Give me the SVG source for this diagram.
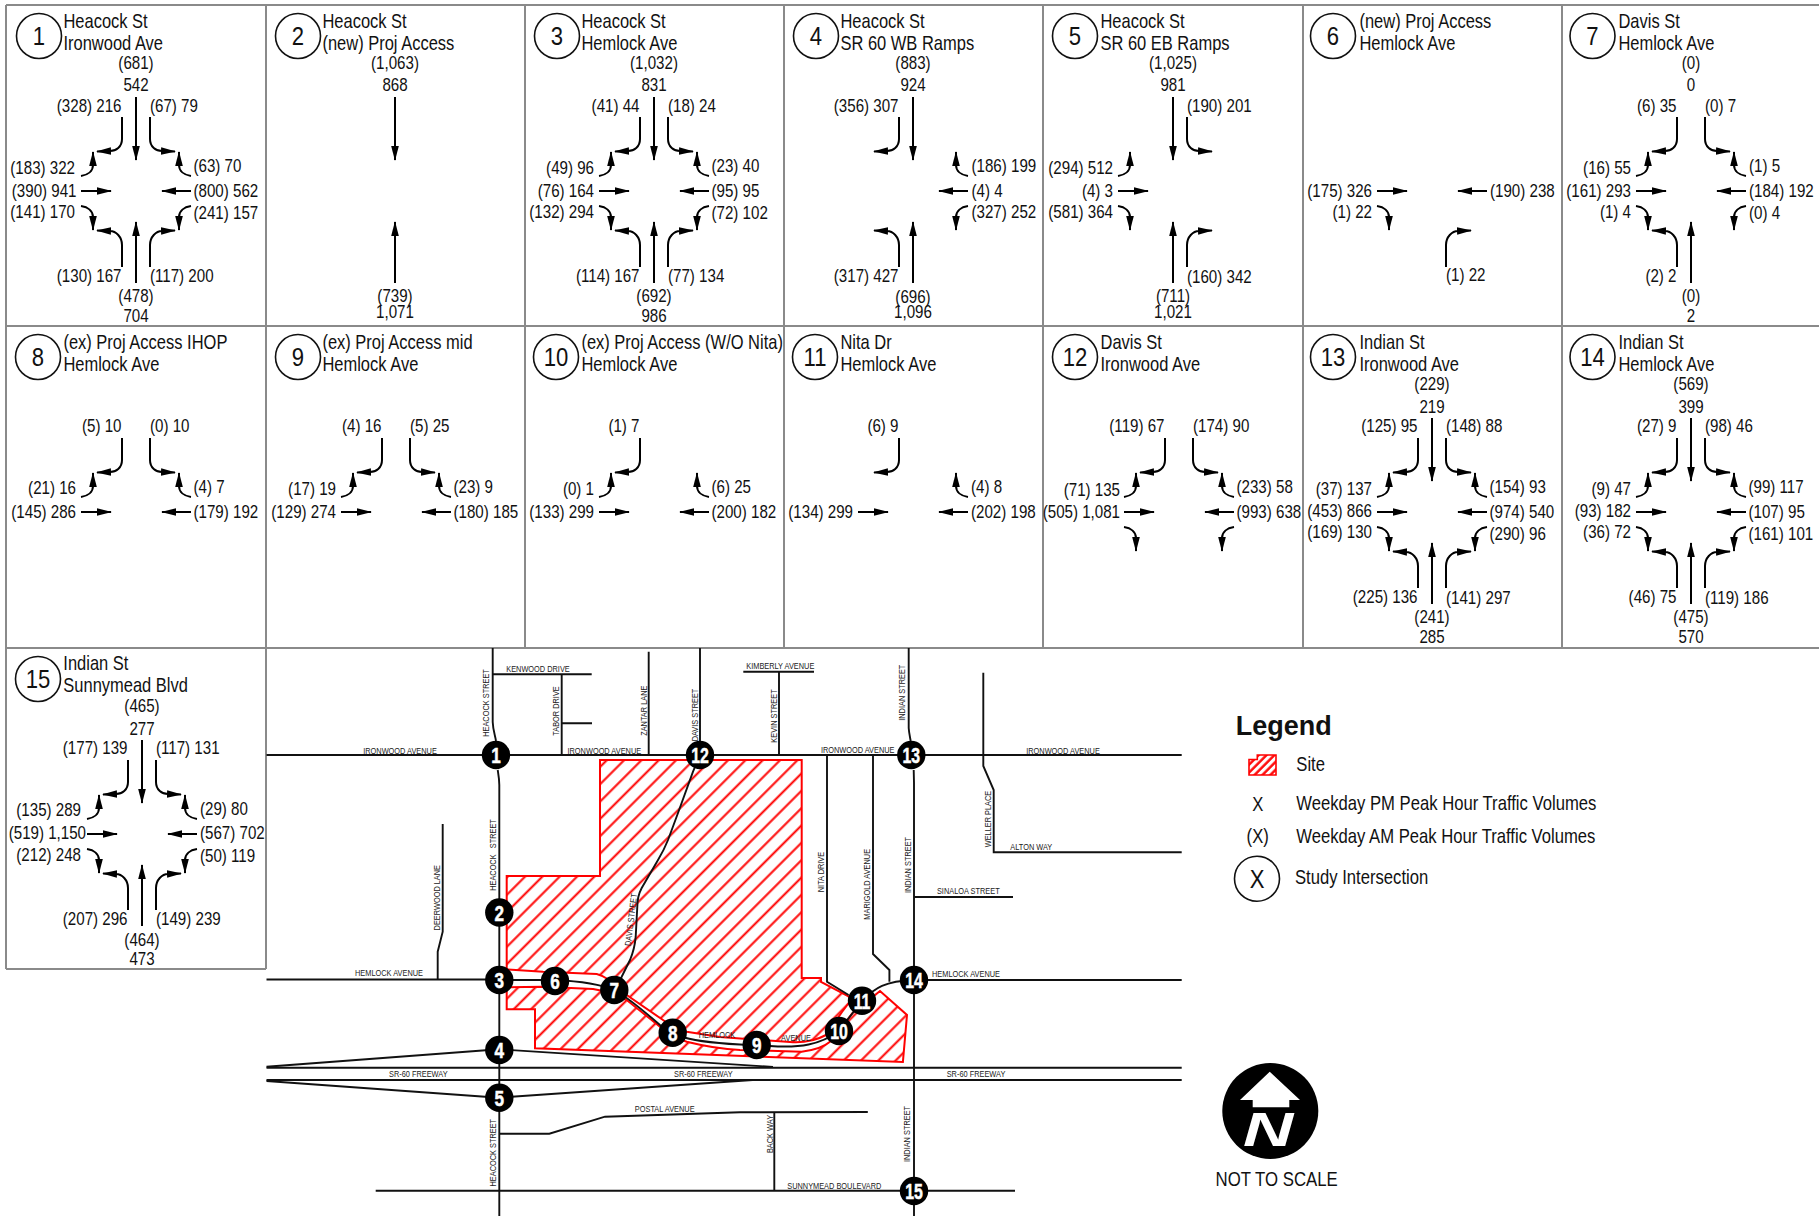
<svg xmlns="http://www.w3.org/2000/svg" width="1819" height="1216" viewBox="0 0 1819 1216">
<style>
text{font-family:"Liberation Sans",Arial,sans-serif;fill:#111}
.v{font-size:17.8px}
.e{font-size:17.8px;text-anchor:end}
.m{font-size:17.8px;text-anchor:middle}
.t{font-size:19.4px}
.n{font-size:26px;text-anchor:middle}
.c{fill:#fff;stroke:#111;stroke-width:1.6}
.grid{stroke:#8a8a8a;stroke-width:2;fill:none}
.a{fill:none;stroke:#000;stroke-width:2;marker-end:url(#h)}
.road{fill:none;stroke:#111;stroke-width:1.9}
.site{fill:url(#hatch);stroke:#f00;stroke-width:2}
.l{font-size:8.8px;text-anchor:middle;fill:#222}
.k{font-size:22px;font-weight:bold;fill:#fff;stroke:#fff;stroke-width:.5;text-anchor:middle}
.lg{font-size:19.6px}
</style>
<defs>
<marker id="h" markerUnits="userSpaceOnUse" markerWidth="16" markerHeight="9" viewBox="0 -4.5 16 9" refX="14" refY="0" orient="auto"><path d="M0,-3.8L15,0L0,3.8z" fill="#000"/></marker>
<pattern id="hatch" patternUnits="userSpaceOnUse" width="12.254" height="12.254" patternTransform="rotate(45)"><rect width="12.254" height="12.254" fill="#fff"/><line x1="10.8" y1="0" x2="10.8" y2="12.254" stroke="#f00" stroke-width="2"/></pattern>
<pattern id="hatch2" patternUnits="userSpaceOnUse" width="5.6" height="5.6" patternTransform="rotate(45)"><rect width="5.6" height="5.6" fill="#fff"/><line x1="1.5" y1="0" x2="1.5" y2="5.6" stroke="#f00" stroke-width="2.4"/></pattern>
<path id="st" class="a" d="M0,-94V-31"/>
<path id="nt" class="a" d="M0,92V31"/>
<path id="et" class="a" d="M-55,0H-25"/>
<path id="wt" class="a" d="M55,0H26"/>
<path id="sr" class="a" d="M-14,-74V-52C-14,-44 -20,-40 -26,-40L-39,-39.5"/>
<path id="sl" class="a" d="M14,-74V-52C14,-44 20,-40 26,-40L39,-39.5"/>
<path id="nl" class="a" d="M-14,76V54C-14,46 -20,40 -26,40L-39,39.5"/>
<path id="nr" class="a" d="M14,76V54C14,46 20,40 26,40L39,39.5"/>
<path id="eu" class="a" d="M-55,-15C-48,-16 -43,-20 -43,-26L-43,-39"/>
<path id="ed" class="a" d="M-55,15C-48,16 -43,20 -43,26L-43,39"/>
<path id="wu" class="a" d="M55,-15C48,-16 43,-20 43,-26L43,-39"/>
<path id="wd" class="a" d="M55,15C48,16 43,20 43,26L43,39"/>
</defs>
<rect width="1819" height="1216" fill="#fff"/>
<path id="grid" class="grid" d="M6,5H1819M6,326H1819M6,648H1819M6,969H266M6,5V969M266,5V969M525,5V648M784,5V648M1043,5V648M1303,5V648M1562,5V648"/>

<g id="cell-1" transform="translate(136 191)">
<circle class="c" cx="-97" cy="-155" r="22.5"/><text class="n" transform="matrix(.85 0 0 1 -97 -146)">1</text>
<text class="t" transform="matrix(.85 0 0 1 -72.6 -163.5)">Heacock St</text><text class="t" transform="matrix(.85 0 0 1 -72.6 -141.5)">Ironwood Ave</text>
<use href="#st"/><use href="#nt"/><use href="#et"/><use href="#wt"/><use href="#sr"/><use href="#sl"/><use href="#nl"/><use href="#nr"/><use href="#eu"/><use href="#ed"/><use href="#wu"/><use href="#wd"/>
<text class="m" transform="matrix(.85 0 0 1 0 -122)">(681)</text><text class="m" transform="matrix(.85 0 0 1 0 -100)">542</text>
<text class="e" transform="matrix(.85 0 0 1 -14.5 -79)">(328) 216</text><text class="v" transform="matrix(.85 0 0 1 14 -79)">(67) 79</text>
<text class="e" transform="matrix(.85 0 0 1 -61 -17)">(183) 322</text><text class="e" transform="matrix(.85 0 0 1 -59.5 6)">(390) 941</text><text class="e" transform="matrix(.85 0 0 1 -61 27)">(141) 170</text>
<text class="v" transform="matrix(.85 0 0 1 57.5 -19)">(63) 70</text><text class="v" transform="matrix(.85 0 0 1 57.5 6)">(800) 562</text><text class="v" transform="matrix(.85 0 0 1 57.5 28)">(241) 157</text>
<text class="e" transform="matrix(.85 0 0 1 -14.5 91)">(130) 167</text><text class="v" transform="matrix(.85 0 0 1 14 91)">(117) 200</text>
<text class="m" transform="matrix(.85 0 0 1 0 111)">(478)</text><text class="m" transform="matrix(.85 0 0 1 0 131)">704</text>
</g>

<g id="cell-2" transform="translate(395 191)">
<circle class="c" cx="-97" cy="-155" r="22.5"/><text class="n" transform="matrix(.85 0 0 1 -97 -146)">2</text>
<text class="t" transform="matrix(.85 0 0 1 -72.6 -163.5)">Heacock St</text><text class="t" transform="matrix(.85 0 0 1 -72.6 -141.5)">(new) Proj Access</text>
<use href="#st"/><use href="#nt"/>
<text class="m" transform="matrix(.85 0 0 1 0 -122)">(1,063)</text><text class="m" transform="matrix(.85 0 0 1 0 -100)">868</text>
<text class="m" transform="matrix(.85 0 0 1 0 111)">(739)</text><text class="m" transform="matrix(.85 0 0 1 0 127)">1,071</text>
</g>

<g id="cell-3" transform="translate(654 191)">
<circle class="c" cx="-97" cy="-155" r="22.5"/><text class="n" transform="matrix(.85 0 0 1 -97 -146)">3</text>
<text class="t" transform="matrix(.85 0 0 1 -72.6 -163.5)">Heacock St</text><text class="t" transform="matrix(.85 0 0 1 -72.6 -141.5)">Hemlock Ave</text>
<use href="#st"/><use href="#nt"/><use href="#et"/><use href="#wt"/><use href="#sr"/><use href="#sl"/><use href="#nl"/><use href="#nr"/><use href="#eu"/><use href="#ed"/><use href="#wu"/><use href="#wd"/>
<text class="m" transform="matrix(.85 0 0 1 0 -122)">(1,032)</text><text class="m" transform="matrix(.85 0 0 1 0 -100)">831</text>
<text class="e" transform="matrix(.85 0 0 1 -14.5 -79)">(41) 44</text><text class="v" transform="matrix(.85 0 0 1 14 -79)">(18) 24</text>
<text class="e" transform="matrix(.85 0 0 1 -60 -17)">(49) 96</text><text class="e" transform="matrix(.85 0 0 1 -60 6)">(76) 164</text><text class="e" transform="matrix(.85 0 0 1 -60 27)">(132) 294</text>
<text class="v" transform="matrix(.85 0 0 1 57.5 -19)">(23) 40</text><text class="v" transform="matrix(.85 0 0 1 57.5 6)">(95) 95</text><text class="v" transform="matrix(.85 0 0 1 57.5 28)">(72) 102</text>
<text class="e" transform="matrix(.85 0 0 1 -14.5 91)">(114) 167</text><text class="v" transform="matrix(.85 0 0 1 14 91)">(77) 134</text>
<text class="m" transform="matrix(.85 0 0 1 0 111)">(692)</text><text class="m" transform="matrix(.85 0 0 1 0 131)">986</text>
</g>

<g id="cell-4" transform="translate(913 191)">
<circle class="c" cx="-97" cy="-155" r="22.5"/><text class="n" transform="matrix(.85 0 0 1 -97 -146)">4</text>
<text class="t" transform="matrix(.85 0 0 1 -72.6 -163.5)">Heacock St</text><text class="t" transform="matrix(.85 0 0 1 -72.6 -141.5)">SR 60 WB Ramps</text>
<use href="#st"/><use href="#nt"/><use href="#wt"/><use href="#sr"/><use href="#nl"/><use href="#wu"/><use href="#wd"/>
<text class="m" transform="matrix(.85 0 0 1 0 -122)">(883)</text><text class="m" transform="matrix(.85 0 0 1 0 -100)">924</text>
<text class="e" transform="matrix(.85 0 0 1 -14.5 -79)">(356) 307</text>
<text class="v" transform="matrix(.85 0 0 1 58.5 -19)">(186) 199</text><text class="v" transform="matrix(.85 0 0 1 58.5 6)">(4) 4</text><text class="v" transform="matrix(.85 0 0 1 58.5 27)">(327) 252</text>
<text class="e" transform="matrix(.85 0 0 1 -14.5 91)">(317) 427</text>
<text class="m" transform="matrix(.85 0 0 1 0 112)">(696)</text><text class="m" transform="matrix(.85 0 0 1 0 127)">1,096</text>
</g>

<g id="cell-5" transform="translate(1173 191)">
<circle class="c" cx="-98" cy="-155" r="22.5"/><text class="n" transform="matrix(.85 0 0 1 -98 -146)">5</text>
<text class="t" transform="matrix(.85 0 0 1 -72.6 -163.5)">Heacock St</text><text class="t" transform="matrix(.85 0 0 1 -72.6 -141.5)">SR 60 EB Ramps</text>
<use href="#st"/><use href="#nt"/><use href="#et"/><use href="#sl"/><use href="#nr"/><use href="#eu"/><use href="#ed"/>
<text class="m" transform="matrix(.85 0 0 1 0 -122)">(1,025)</text><text class="m" transform="matrix(.85 0 0 1 0 -100)">981</text>
<text class="v" transform="matrix(.85 0 0 1 14 -79)">(190) 201</text>
<text class="e" transform="matrix(.85 0 0 1 -60 -17)">(294) 512</text><text class="e" transform="matrix(.85 0 0 1 -60 6)">(4) 3</text><text class="e" transform="matrix(.85 0 0 1 -60 27)">(581) 364</text>
<text class="v" transform="matrix(.85 0 0 1 14 92)">(160) 342</text>
<text class="m" transform="matrix(.85 0 0 1 0 111)">(711)</text><text class="m" transform="matrix(.85 0 0 1 0 127)">1,021</text>
</g>

<g id="cell-6" transform="translate(1432 191)">
<circle class="c" cx="-99" cy="-155" r="22.5"/><text class="n" transform="matrix(.85 0 0 1 -99 -146)">6</text>
<text class="t" transform="matrix(.85 0 0 1 -72.6 -163.5)">(new) Proj Access</text><text class="t" transform="matrix(.85 0 0 1 -72.6 -141.5)">Hemlock Ave</text>
<use href="#et"/><use href="#wt"/><use href="#nr"/><use href="#ed"/>
<text class="e" transform="matrix(.85 0 0 1 -60 6)">(175) 326</text><text class="e" transform="matrix(.85 0 0 1 -60 27)">(1) 22</text>
<text class="v" transform="matrix(.85 0 0 1 58 6)">(190) 238</text>
<text class="v" transform="matrix(.85 0 0 1 14 90)">(1) 22</text>
</g>

<g id="cell-7" transform="translate(1691 191)">
<circle class="c" cx="-98.5" cy="-155" r="22.5"/><text class="n" transform="matrix(.85 0 0 1 -98.5 -146)">7</text>
<text class="t" transform="matrix(.85 0 0 1 -72.6 -163.5)">Davis St</text><text class="t" transform="matrix(.85 0 0 1 -72.6 -141.5)">Hemlock Ave</text>
<use href="#nt"/><use href="#et"/><use href="#wt"/><use href="#sr"/><use href="#sl"/><use href="#nl"/><use href="#eu"/><use href="#ed"/><use href="#wu"/><use href="#wd"/>
<text class="m" transform="matrix(.85 0 0 1 0 -122)">(0)</text><text class="m" transform="matrix(.85 0 0 1 0 -100)">0</text>
<text class="e" transform="matrix(.85 0 0 1 -14.5 -79)">(6) 35</text><text class="v" transform="matrix(.85 0 0 1 14 -79)">(0) 7</text>
<text class="e" transform="matrix(.85 0 0 1 -60 -17)">(16) 55</text><text class="e" transform="matrix(.85 0 0 1 -60 6)">(161) 293</text><text class="e" transform="matrix(.85 0 0 1 -60 27)">(1) 4</text>
<text class="v" transform="matrix(.85 0 0 1 58 -19)">(1) 5</text><text class="v" transform="matrix(.85 0 0 1 58 6)">(184) 192</text><text class="v" transform="matrix(.85 0 0 1 58 28)">(0) 4</text>
<text class="e" transform="matrix(.85 0 0 1 -14.5 91)">(2) 2</text>
<text class="m" transform="matrix(.85 0 0 1 0 111)">(0)</text><text class="m" transform="matrix(.85 0 0 1 0 131)">2</text>
</g>

<g id="cell-8" transform="translate(136 512)">
<circle class="c" cx="-98" cy="-155" r="22.5"/><text class="n" transform="matrix(.85 0 0 1 -98 -146)">8</text>
<text class="t" transform="matrix(.85 0 0 1 -72.6 -163.5)">(ex) Proj Access IHOP</text><text class="t" transform="matrix(.85 0 0 1 -72.6 -141.5)">Hemlock Ave</text>
<use href="#et"/><use href="#wt"/><use href="#sr"/><use href="#sl"/><use href="#eu"/><use href="#wu"/>
<text class="e" transform="matrix(.85 0 0 1 -14.5 -80)">(5) 10</text><text class="v" transform="matrix(.85 0 0 1 14 -80)">(0) 10</text>
<text class="e" transform="matrix(.85 0 0 1 -60 -18)">(21) 16</text><text class="e" transform="matrix(.85 0 0 1 -60 5.5)">(145) 286</text>
<text class="v" transform="matrix(.85 0 0 1 57.5 -19)">(4) 7</text><text class="v" transform="matrix(.85 0 0 1 57.5 6)">(179) 192</text>
</g>

<g id="cell-9" transform="translate(396 512)">
<circle class="c" cx="-98" cy="-155" r="22.5"/><text class="n" transform="matrix(.85 0 0 1 -98 -146)">9</text>
<text class="t" transform="matrix(.85 0 0 1 -73.6 -163.5)">(ex) Proj Access mid</text><text class="t" transform="matrix(.85 0 0 1 -73.6 -141.5)">Hemlock Ave</text>
<use href="#et"/><use href="#wt"/><use href="#sr"/><use href="#sl"/><use href="#eu"/><use href="#wu"/>
<text class="e" transform="matrix(.85 0 0 1 -14.5 -80)">(4) 16</text><text class="v" transform="matrix(.85 0 0 1 14 -80)">(5) 25</text>
<text class="e" transform="matrix(.85 0 0 1 -60 -17.5)">(17) 19</text><text class="e" transform="matrix(.85 0 0 1 -60 5.5)">(129) 274</text>
<text class="v" transform="matrix(.85 0 0 1 57.5 -19)">(23) 9</text><text class="v" transform="matrix(.85 0 0 1 57.5 6)">(180) 185</text>
</g>

<g id="cell-10" transform="translate(654 512)">
<circle class="c" cx="-98" cy="-155" r="22.5"/><text class="n" transform="matrix(.85 0 0 1 -98 -146)">10</text>
<text class="t" transform="matrix(.85 0 0 1 -72.6 -163.5)">(ex) Proj Access (W/O Nita)</text><text class="t" transform="matrix(.85 0 0 1 -72.6 -141.5)">Hemlock Ave</text>
<use href="#et"/><use href="#wt"/><use href="#sr"/><use href="#eu"/><use href="#wu"/>
<text class="e" transform="matrix(.85 0 0 1 -14.5 -80)">(1) 7</text>
<text class="e" transform="matrix(.85 0 0 1 -60 -17.5)">(0) 1</text><text class="e" transform="matrix(.85 0 0 1 -60 5.5)">(133) 299</text>
<text class="v" transform="matrix(.85 0 0 1 57.5 -19)">(6) 25</text><text class="v" transform="matrix(.85 0 0 1 57.5 6)">(200) 182</text>
</g>

<g id="cell-11" transform="translate(913 512)">
<circle class="c" cx="-98" cy="-155" r="22.5"/><text class="n" transform="matrix(.85 0 0 1 -98 -146)">11</text>
<text class="t" transform="matrix(.85 0 0 1 -72.6 -163.5)">Nita Dr</text><text class="t" transform="matrix(.85 0 0 1 -72.6 -141.5)">Hemlock Ave</text>
<use href="#et"/><use href="#wt"/><use href="#sr"/><use href="#wu"/>
<text class="e" transform="matrix(.85 0 0 1 -14.5 -80)">(6) 9</text>
<text class="e" transform="matrix(.85 0 0 1 -60 5.5)">(134) 299</text>
<text class="v" transform="matrix(.85 0 0 1 58 -19)">(4) 8</text><text class="v" transform="matrix(.85 0 0 1 58 6)">(202) 198</text>
</g>

<g id="cell-12" transform="translate(1179 512)">
<circle class="c" cx="-104" cy="-155" r="22.5"/><text class="n" transform="matrix(.85 0 0 1 -104 -146)">12</text>
<text class="t" transform="matrix(.85 0 0 1 -78.5 -163.5)">Davis St</text><text class="t" transform="matrix(.85 0 0 1 -78.5 -141.5)">Ironwood Ave</text>
<use href="#et"/><use href="#wt"/><use href="#sr"/><use href="#sl"/><use href="#eu"/><use href="#ed"/><use href="#wu"/><use href="#wd"/>
<text class="e" transform="matrix(.85 0 0 1 -14.5 -80)">(119) 67</text><text class="v" transform="matrix(.85 0 0 1 14 -80)">(174) 90</text>
<text class="e" transform="matrix(.85 0 0 1 -59 -16.5)">(71) 135</text><text class="e" transform="matrix(.85 0 0 1 -59 5.5)">(505) 1,081</text>
<text class="v" transform="matrix(.85 0 0 1 57.5 -19)">(233) 58</text><text class="v" transform="matrix(.85 0 0 1 57.5 6)">(993) 638</text>
</g>

<g id="cell-13" transform="translate(1432 512)">
<circle class="c" cx="-99" cy="-155" r="22.5"/><text class="n" transform="matrix(.85 0 0 1 -99 -146)">13</text>
<text class="t" transform="matrix(.85 0 0 1 -72.6 -163.5)">Indian St</text><text class="t" transform="matrix(.85 0 0 1 -72.6 -141.5)">Ironwood Ave</text>
<use href="#st"/><use href="#nt"/><use href="#et"/><use href="#wt"/><use href="#sr"/><use href="#sl"/><use href="#nl"/><use href="#nr"/><use href="#eu"/><use href="#ed"/><use href="#wu"/><use href="#wd"/>
<text class="m" transform="matrix(.85 0 0 1 0 -122)">(229)</text><text class="m" transform="matrix(.85 0 0 1 0 -99)">219</text>
<text class="e" transform="matrix(.85 0 0 1 -14.5 -80)">(125) 95</text><text class="v" transform="matrix(.85 0 0 1 14 -80)">(148) 88</text>
<text class="e" transform="matrix(.85 0 0 1 -60 -17)">(37) 137</text><text class="e" transform="matrix(.85 0 0 1 -60 4.5)">(453) 866</text><text class="e" transform="matrix(.85 0 0 1 -60 26)">(169) 130</text>
<text class="v" transform="matrix(.85 0 0 1 57.5 -19)">(154) 93</text><text class="v" transform="matrix(.85 0 0 1 57.5 6)">(974) 540</text><text class="v" transform="matrix(.85 0 0 1 57.5 28)">(290) 96</text>
<text class="e" transform="matrix(.85 0 0 1 -14.5 91)">(225) 136</text><text class="v" transform="matrix(.85 0 0 1 14 92)">(141) 297</text>
<text class="m" transform="matrix(.85 0 0 1 0 111)">(241)</text><text class="m" transform="matrix(.85 0 0 1 0 131)">285</text>
</g>

<g id="cell-14" transform="translate(1691 512)">
<circle class="c" cx="-98.5" cy="-155" r="22.5"/><text class="n" transform="matrix(.85 0 0 1 -98.5 -146)">14</text>
<text class="t" transform="matrix(.85 0 0 1 -72.6 -163.5)">Indian St</text><text class="t" transform="matrix(.85 0 0 1 -72.6 -141.5)">Hemlock Ave</text>
<use href="#st"/><use href="#nt"/><use href="#et"/><use href="#wt"/><use href="#sr"/><use href="#sl"/><use href="#nl"/><use href="#nr"/><use href="#eu"/><use href="#ed"/><use href="#wu"/><use href="#wd"/>
<text class="m" transform="matrix(.85 0 0 1 0 -122)">(569)</text><text class="m" transform="matrix(.85 0 0 1 0 -99)">399</text>
<text class="e" transform="matrix(.85 0 0 1 -14.5 -80)">(27) 9</text><text class="v" transform="matrix(.85 0 0 1 14 -80)">(98) 46</text>
<text class="e" transform="matrix(.85 0 0 1 -60 -17)">(9) 47</text><text class="e" transform="matrix(.85 0 0 1 -60 4.5)">(93) 182</text><text class="e" transform="matrix(.85 0 0 1 -60 26)">(36) 72</text>
<text class="v" transform="matrix(.85 0 0 1 57.5 -19)">(99) 117</text><text class="v" transform="matrix(.85 0 0 1 57.5 6)">(107) 95</text><text class="v" transform="matrix(.85 0 0 1 57.5 28)">(161) 101</text>
<text class="e" transform="matrix(.85 0 0 1 -14.5 91)">(46) 75</text><text class="v" transform="matrix(.85 0 0 1 14 92)">(119) 186</text>
<text class="m" transform="matrix(.85 0 0 1 0 111)">(475)</text><text class="m" transform="matrix(.85 0 0 1 0 131)">570</text>
</g>

<g id="cell-15" transform="translate(142 834)">
<circle class="c" cx="-104" cy="-155" r="22.5"/><text class="n" transform="matrix(.85 0 0 1 -104 -146)">15</text>
<text class="t" transform="matrix(.85 0 0 1 -78.7 -163.8)">Indian St</text><text class="t" transform="matrix(.85 0 0 1 -78.7 -142.2)">Sunnymead Blvd</text>
<use href="#st"/><use href="#nt"/><use href="#et"/><use href="#wt"/><use href="#sr"/><use href="#sl"/><use href="#nl"/><use href="#nr"/><use href="#eu"/><use href="#ed"/><use href="#wu"/><use href="#wd"/>
<text class="m" transform="matrix(.85 0 0 1 0 -122)">(465)</text><text class="m" transform="matrix(.85 0 0 1 0 -99)">277</text>
<text class="e" transform="matrix(.85 0 0 1 -14.5 -80)">(177) 139</text><text class="v" transform="matrix(.85 0 0 1 14 -80)">(117) 131</text>
<text class="e" transform="matrix(.85 0 0 1 -61 -18)">(135) 289</text><text class="e" transform="matrix(.85 0 0 1 -56 5)">(519) 1,150</text><text class="e" transform="matrix(.85 0 0 1 -61 27)">(212) 248</text>
<text class="v" transform="matrix(.85 0 0 1 58 -19)">(29) 80</text><text class="v" transform="matrix(.85 0 0 1 58 5)">(567) 702</text><text class="v" transform="matrix(.85 0 0 1 58 28)">(50) 119</text>
<text class="e" transform="matrix(.85 0 0 1 -14.5 91)">(207) 296</text><text class="v" transform="matrix(.85 0 0 1 14 91)">(149) 239</text>
<text class="m" transform="matrix(.85 0 0 1 0 112)">(464)</text><text class="m" transform="matrix(.85 0 0 1 0 131)">473</text>
</g>

<g id="site">
<path class="site" d="M600,760H801.7V978H821V982L848,996L851,1000L842,1012L826,1035C815,1041 805,1043 790,1042L720,1037L686.7,1031.7C675,1028 668,1024 663,1020L626.7,995C612,981 605,976 596.7,974L543,971.7L506.7,969.3V876H600Z"/>
<path class="site" d="M506.7,987.3L543,986.7L593,989C605,991 615,994 626.7,1000L660,1026.7C668,1033 678,1039 686.7,1041.7C700,1045 720,1049 740,1050L801.6,1051.7C815,1050 825,1046 830,1041.7L852.6,1013L880,991L907,1015L902.9,1062L535,1048.3V1009.3H506.7Z"/>
</g>

<g id="roads">
<path class="road" d="M492.7,648V722C493,730 495,735 496,741M497.7,770C498.5,775 499.3,779 499.3,785V1216"/>
<path class="road" d="M266.5,755H1181.7"/>
<path class="road" d="M492.7,674.3H591.7M561.7,674.3V755M561.7,723.3H592M648.7,651.7V755M700,648V755"/>
<path class="road" d="M442.7,824V931.7L437.7,951.7V979.3"/>
<path class="road" d="M266.5,979.5H499"/>
<path class="road" d="M499,980H555C575,981 600,984 614.3,990C627,997 645,1012 660,1025C668,1031 672,1033 680,1036C692,1041 712,1043 740,1044.5L770,1046C800,1048 820,1045 839,1031L862,1000.7C875,988 885,981 914,980H1181.7"/>
<path class="road" d="M700,755L693,771.7L678,813L668,840C664,850 661,855 658,860L641.7,888C638,895 637.3,900 637.3,906.7L635.7,936.7C635,945 633,953 630,960L621.7,976.7L614.3,990"/>
<path class="road" d="M827,755V981.7L848.6,995"/>
<path class="road" d="M873,755V954L889.4,970V981.7"/>
<path class="road" d="M908.7,648V728C909,733 910,737 910.7,741M913.7,770L914,783V1216"/>
<path class="road" d="M743.3,671.7H814M779,671.7V755"/>
<path class="road" d="M983.3,672.7V766L993.7,790V852.3H1181.7"/>
<path class="road" d="M914,897H1013"/>
<path class="road" d="M266.5,1067.7H1181.7M266.5,1080H1181.7"/>
<path class="road" d="M266.5,1066.7L499,1049.3L773,1067M266.5,1081L499,1097.7L752.7,1080"/>
<path class="road" d="M499.3,1133.7H549.3L605,1116.7L740,1112.3L867.8,1112M774.3,1112V1190.7M375.7,1190.7H1015"/>
</g>

<g id="road-labels">
<text class="l" transform="matrix(.84 0 0 1 538 672)">KENWOOD DRIVE</text>
<text class="l" transform="matrix(.84 0 0 1 400 754)">IRONWOOD AVENUE</text>
<text class="l" transform="matrix(.84 0 0 1 604.3 754)">IRONWOOD AVENUE</text>
<text class="l" transform="matrix(.84 0 0 1 857.7 753)">IRONWOOD AVENUE</text>
<text class="l" transform="matrix(.84 0 0 1 1063 754)">IRONWOOD AVENUE</text>
<text class="l" transform="matrix(.84 0 0 1 780.3 669)">KIMBERLY AVENUE</text>
<text class="l" transform="matrix(.84 0 0 1 1031.3 850)">ALTON WAY</text>
<text class="l" transform="matrix(.84 0 0 1 968.3 894)">SINALOA STREET</text>
<text class="l" transform="matrix(.84 0 0 1 389 976)">HEMLOCK AVENUE</text>
<text class="l" transform="matrix(.84 0 0 1 966 977)">HEMLOCK AVENUE</text>
<text class="l" transform="matrix(.84 0 0 1 717 1038)">HEMLOCK</text>
<text class="l" transform="matrix(.84 0 0 1 796 1041)">AVENUE</text>
<text class="l" transform="matrix(.84 0 0 1 418.3 1076.7)">SR-60 FREEWAY</text>
<text class="l" transform="matrix(.84 0 0 1 703.3 1076.7)">SR-60 FREEWAY</text>
<text class="l" transform="matrix(.84 0 0 1 976 1076.7)">SR-60 FREEWAY</text>
<text class="l" transform="matrix(.84 0 0 1 664.7 1112)">POSTAL AVENUE</text>
<text class="l" transform="matrix(.84 0 0 1 834.3 1188.7)">SUNNYMEAD BOULEVARD</text>
<text class="l" transform="translate(488.5 703) rotate(-90) scale(.84 1)">HEACOCK STREET</text>
<text class="l" transform="translate(496 855) rotate(-90) scale(.84 1)">HEACOCK&#160;&#160;&#160;STREET</text>
<text class="l" transform="translate(496 1152.7) rotate(-90) scale(.84 1)">HEACOCK STREET</text>
<text class="l" transform="translate(559 711) rotate(-90) scale(.84 1)">TABOR DRIVE</text>
<text class="l" transform="translate(647.3 710.7) rotate(-90) scale(.84 1)">ZANTAR LANE</text>
<text class="l" transform="translate(698.3 715) rotate(-90) scale(.84 1)">DAVIS STREET</text>
<text class="l" transform="translate(440.3 897.7) rotate(-90) scale(.84 1)">DEERWOOD LANE</text>
<text class="l" transform="translate(634 920) rotate(-83) scale(.84 1)">DAVIS STREET</text>
<text class="l" transform="translate(776.6 716) rotate(-90) scale(.84 1)">KEVIN STREET</text>
<text class="l" transform="translate(824 872) rotate(-90) scale(.84 1)">NITA DRIVE</text>
<text class="l" transform="translate(870.3 884.3) rotate(-90) scale(.84 1)">MARIGOLD AVENUE</text>
<text class="l" transform="translate(905 692.7) rotate(-90) scale(.84 1)">INDIAN STREET</text>
<text class="l" transform="translate(910.6 865) rotate(-90) scale(.84 1)">INDIAN STREET</text>
<text class="l" transform="translate(910.3 1134) rotate(-90) scale(.84 1)">INDIAN STREET</text>
<text class="l" transform="translate(990.6 819) rotate(-90) scale(.84 1)">WELLER PLACE</text>
<text class="l" transform="translate(773 1134) rotate(-90) scale(.84 1)">BACK WAY</text>
</g>

<g id="node-m1"><circle cx="496" cy="755" r="14.2" fill="#000"/><text class="k" transform="matrix(.78 0 0 1 496 763)">1</text></g>
<g id="node-m2"><circle cx="499.3" cy="912.5" r="14.2" fill="#000"/><text class="k" transform="matrix(.78 0 0 1 499.3 920.5)">2</text></g>
<g id="node-m3"><circle cx="499.3" cy="980" r="14.2" fill="#000"/><text class="k" transform="matrix(.78 0 0 1 499.3 988)">3</text></g>
<g id="node-m4"><circle cx="499.3" cy="1050" r="14.2" fill="#000"/><text class="k" transform="matrix(.78 0 0 1 499.3 1058)">4</text></g>
<g id="node-m5"><circle cx="499.3" cy="1097.7" r="14.2" fill="#000"/><text class="k" transform="matrix(.78 0 0 1 499.3 1105.7)">5</text></g>
<g id="node-m6"><circle cx="555" cy="981" r="14.2" fill="#000"/><text class="k" transform="matrix(.78 0 0 1 555 989)">6</text></g>
<g id="node-m7"><circle cx="614.3" cy="990" r="14.2" fill="#000"/><text class="k" transform="matrix(.78 0 0 1 614.3 998)">7</text></g>
<g id="node-m8"><circle cx="672.7" cy="1032.7" r="14.2" fill="#000"/><text class="k" transform="matrix(.78 0 0 1 672.7 1040.7)">8</text></g>
<g id="node-m9"><circle cx="756.7" cy="1045" r="14.2" fill="#000"/><text class="k" transform="matrix(.78 0 0 1 756.7 1053)">9</text></g>
<g id="node-m10"><circle cx="839" cy="1031" r="14.2" fill="#000"/><text class="k" transform="matrix(.72 0 0 1 839 1039)">10</text></g>
<g id="node-m11"><circle cx="862" cy="1000.7" r="14.2" fill="#000"/><text class="k" transform="matrix(.72 0 0 1 862 1008.7)">11</text></g>
<g id="node-m12"><circle cx="700" cy="755" r="14.2" fill="#000"/><text class="k" transform="matrix(.72 0 0 1 700 763)">12</text></g>
<g id="node-m13"><circle cx="911.3" cy="755" r="14.2" fill="#000"/><text class="k" transform="matrix(.72 0 0 1 911.3 763)">13</text></g>
<g id="node-m14"><circle cx="914" cy="980" r="14.2" fill="#000"/><text class="k" transform="matrix(.72 0 0 1 914 988)">14</text></g>
<g id="node-m15"><circle cx="914" cy="1191" r="14.2" fill="#000"/><text class="k" transform="matrix(.72 0 0 1 914 1199)">15</text></g>

<g id="legend">
<text transform="translate(1235.7 734.5)" style="font-size:27px;font-weight:bold">Legend</text>
<path d="M1249,775V759.5H1257.3V755H1276V775Z" fill="url(#hatch2)" stroke="#f00" stroke-width="1.6"/>
<text class="lg" transform="matrix(.85 0 0 1 1296.3 771)">Site</text>
<text class="m" transform="matrix(.85 0 0 1 1257.7 811)" style="font-size:19.6px">X</text>
<text class="lg" transform="matrix(.85 0 0 1 1296.3 810)">Weekday PM Peak Hour Traffic Volumes</text>
<text class="m" transform="matrix(.85 0 0 1 1257.7 843)" style="font-size:19.6px">(X)</text>
<text class="lg" transform="matrix(.85 0 0 1 1296.3 843)">Weekday AM Peak Hour Traffic Volumes</text>
<circle class="c" cx="1257" cy="878.7" r="22.5"/>
<text class="n" transform="matrix(.85 0 0 1 1257 887.5)">X</text>
<text class="lg" transform="matrix(.85 0 0 1 1295 884)">Study Intersection</text>
</g>
<g id="north">
<circle cx="1270.3" cy="1111" r="48" fill="#000"/>
<path d="M1269.7,1071.7L1300,1100H1289.3V1107.3H1252.7V1100H1240Z" fill="#fff"/>
<text transform="matrix(1.45 0 0 1 1268 1145.5)" style="font-size:48px;font-weight:bold;font-style:italic;fill:#fff;text-anchor:middle">N</text>
<text transform="matrix(.8 0 0 1 1276.7 1185.5)" style="font-size:21px;text-anchor:middle">NOT TO SCALE</text>
</g>
</svg>
